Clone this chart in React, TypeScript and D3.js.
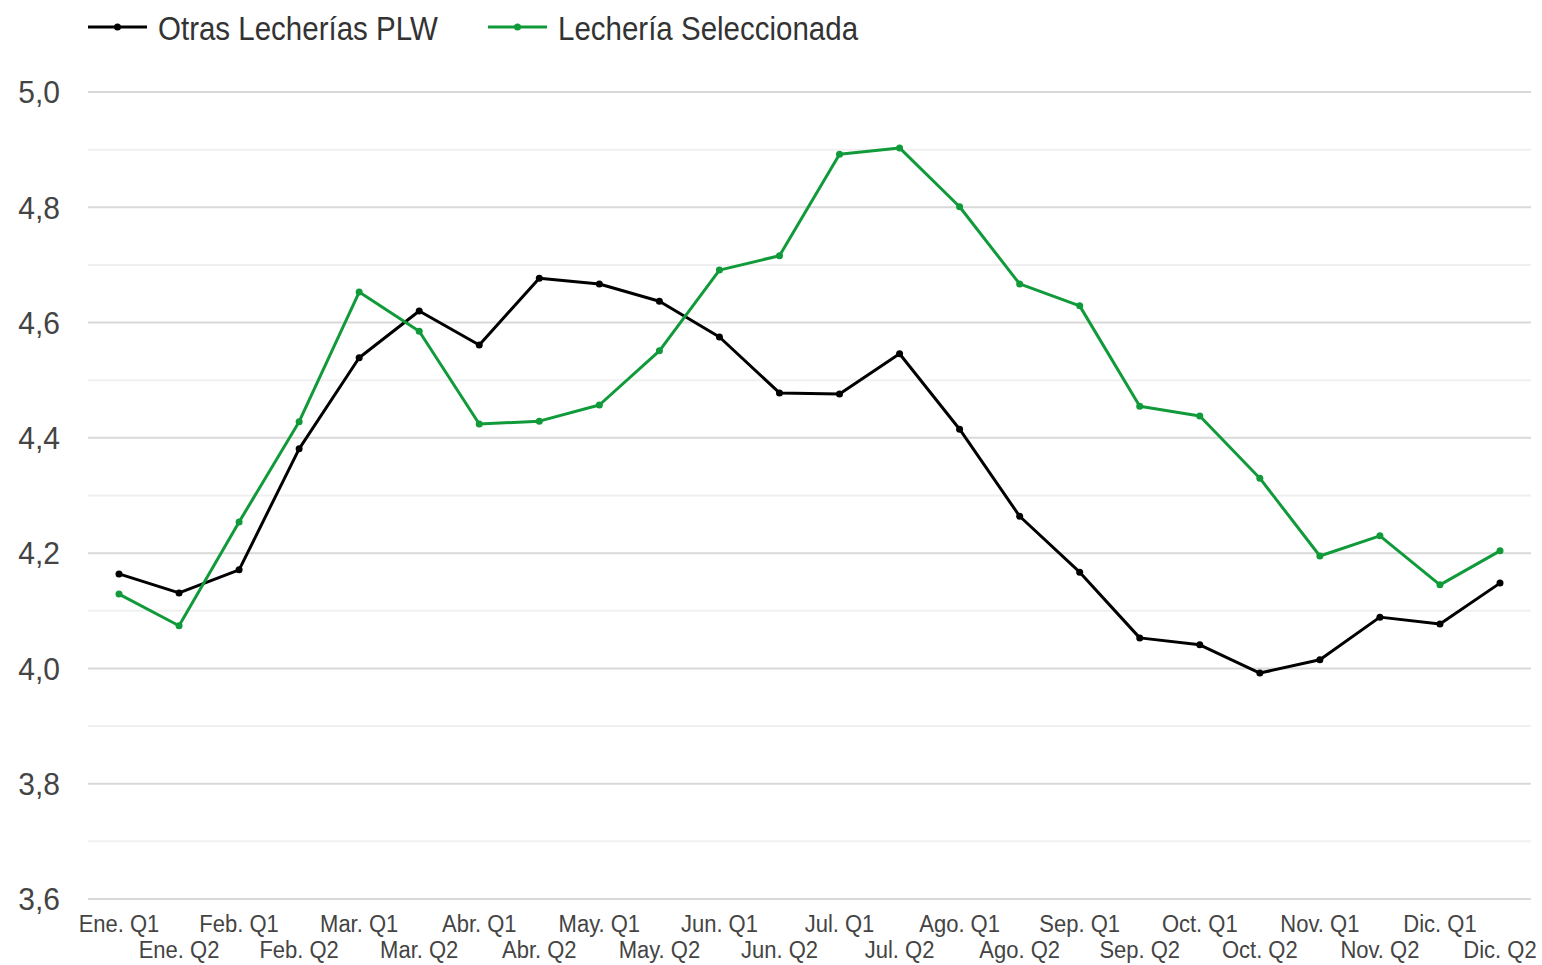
import React from "react";
import * as d3 from "d3";

const categories = [
  "Ene. Q1", "Ene. Q2", "Feb. Q1", "Feb. Q2", "Mar. Q1", "Mar. Q2",
  "Abr. Q1", "Abr. Q2", "May. Q1", "May. Q2", "Jun. Q1", "Jun. Q2",
  "Jul. Q1", "Jul. Q2", "Ago. Q1", "Ago. Q2", "Sep. Q1", "Sep. Q2",
  "Oct. Q1", "Oct. Q2", "Nov. Q1", "Nov. Q2", "Dic. Q1", "Dic. Q2",
];

const otras = [
  4.164, 4.131, 4.171, 4.381, 4.539, 4.62, 4.561, 4.677, 4.667, 4.637, 4.575, 4.478,
  4.476, 4.546, 4.415, 4.264, 4.167, 4.053, 4.041, 3.992, 4.015, 4.089, 4.077, 4.148,
];

const seleccionada = [
  4.129, 4.074, 4.254, 4.428, 4.653, 4.585, 4.424, 4.429, 4.457, 4.551, 4.691, 4.716,
  4.892, 4.903, 4.801, 4.667, 4.629, 4.455, 4.438, 4.33, 4.195, 4.23, 4.145, 4.204,
];

const majorTicks = [3.6, 3.8, 4.0, 4.2, 4.4, 4.6, 4.8, 5.0];
const minorTicks = [3.7, 3.9, 4.1, 4.3, 4.5, 4.7, 4.9];

const series = [
  { name: "Otras Lecherías PLW", values: otras, color: "#000000" },
  { name: "Lechería Seleccionada", values: seleccionada, color: "#109a3a" },
];

export default function App() {
  const W = 1542, H = 965;
  const x = d3.scalePoint<string>().domain(categories).range([119, 1500]);
  const y = d3.scaleLinear().domain([3.6, 5.0]).range([899, 92]);
  const line = d3.line<number>().x((_, i) => x(categories[i])!).y((d) => y(d));
  const font = "Liberation Sans, Arial, sans-serif";
  const textColor = "#444";

  return (
    <svg width={W} height={H} style={{ position: "absolute", left: 0, top: 0, background: "#fff" }}>
      <rect width={W} height={H} fill="#fff" />
      {minorTicks.map((t) => (
        <line key={"m" + t} x1={88} x2={1531} y1={y(t)} y2={y(t)} stroke="#f0f0f0" strokeWidth={2} />
      ))}
      {majorTicks.map((t) => (
        <line key={"M" + t} x1={88} x2={1531} y1={y(t)} y2={y(t)} stroke="#d9d9d9" strokeWidth={2} />
      ))}
      {majorTicks.map((t) => (
        <g key={"t" + t} transform={`translate(60,${y(t)}) scale(1,1.05)`}>
          <text x={0} y={0} dy="0.36em" textAnchor="end" fontFamily={font} fontSize={30} fill={textColor}>
            {t.toFixed(1).replace(".", ",")}
          </text>
        </g>
      ))}
      {categories.map((c, i) => (
        <g key={c} transform={`translate(${x(c)!},${i % 2 === 0 ? 932 : 958}) scale(1,1.05)`}>
          <text x={0} y={0} textAnchor="middle" fontFamily={font} fontSize={22} fill={textColor}>
            {c}
          </text>
        </g>
      ))}
      {series.map((s) => (
        <g key={s.name}>
          <path d={line(s.values)!} fill="none" stroke={s.color} strokeWidth={3} strokeLinejoin="round" />
          {s.values.map((v, i) => (
            <circle key={i} cx={x(categories[i])!} cy={y(v)} r={3.5} fill={s.color} />
          ))}
        </g>
      ))}
      {[
        { s: series[0], lx: 88 },
        { s: series[1], lx: 488 },
      ].map(({ s, lx }) => (
        <g key={"lg" + s.name}>
          <line x1={lx} x2={lx + 59} y1={27} y2={27} stroke={s.color} strokeWidth={3} />
          <circle cx={lx + 29.5} cy={27} r={3.5} fill={s.color} />
          <g transform={`translate(${lx + 70},40) scale(1,1.12)`}>
            <text x={0} y={0} fontFamily={font} fontSize={29.5} fill="#333">
              {s.name}
            </text>
          </g>
        </g>
      ))}
    </svg>
  );
}
